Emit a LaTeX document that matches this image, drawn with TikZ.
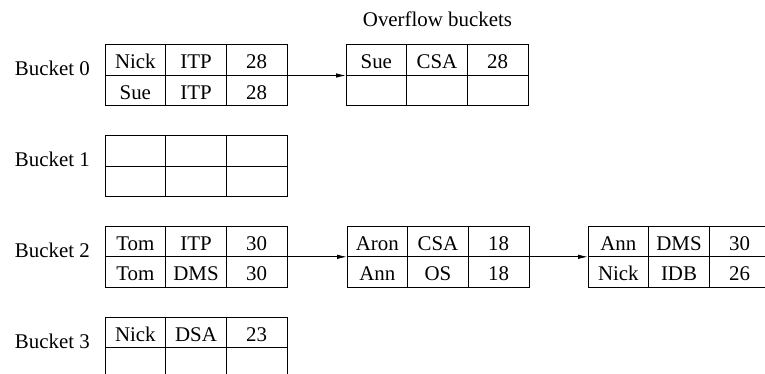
\documentclass[tikz,border=0pt]{standalone}
\usepackage{fontspec}
\setmainfont{Liberation Serif}
\usetikzlibrary{arrows.meta}
\newcommand\mktable[4]{%
  \foreach \t [count=\k from 0] in {#4} {%
    \pgfmathtruncatemacro\rr{int(\k/3)+1}%
    \pgfmathtruncatemacro\cc{mod(\k,3)+1}%
    \node[tcell, anchor=north west] (#1-\rr\cc) at ({#2+(\cc-1)*60.67},{#3+(\rr-1)*30.5}) {\t};
  }%
}
\begin{document}
\begin{tikzpicture}[x=1pt,y=-1pt,
  font=\fontsize{20.9}{24}\selectfont,
  tcell/.style={draw, line width=1pt, minimum width=60.67pt, minimum height=30.5pt,
    inner sep=0pt, outer sep=0pt, text height=19pt, text depth=1.5pt},
  lbl/.style={inner sep=0pt, anchor=base east},
  arr/.style={line width=0.9pt, -{Latex[length=10pt,width=4.5pt]}}]
\useasboundingbox (0,0) rectangle (765,374);
\clip (0,0) rectangle (765,374);
\node[inner sep=0pt, anchor=base] (ovl) at (437.5,27) {Overflow buckets};
\mktable{b0}{105}{45}{Nick,ITP,28,Sue,ITP,28}
\mktable{o0}{346}{45}{Sue,CSA,28,{},{},{}}
\mktable{b1}{105}{135.7}{{},{},{},{},{},{}}
\mktable{b2}{105}{226.3}{Tom,ITP,30,Tom,DMS,30}
\mktable{o2a}{347}{226.3}{Aron,CSA,18,Ann,OS,18}
\mktable{o2b}{588}{226.3}{Ann,DMS,30,Nick,IDB,26}
\mktable{b3}{105}{317}{Nick,DSA,23,{},{},{}}
\node[lbl] (l0) at (90,76) {Bucket 0};
\node[lbl] (l1) at (90,166.7) {Bucket 1};
\node[lbl] (l2) at (90,257.3) {Bucket 2};
\node[lbl] (l3) at (90,348) {Bucket 3};
\draw[arr] (b0-13.south east) -- (o0-11.south west);
\draw[arr] (b2-13.south east) -- (o2a-11.south west);
\draw[arr] (o2a-13.south east) -- (o2b-11.south west);
\end{tikzpicture}
\end{document}
